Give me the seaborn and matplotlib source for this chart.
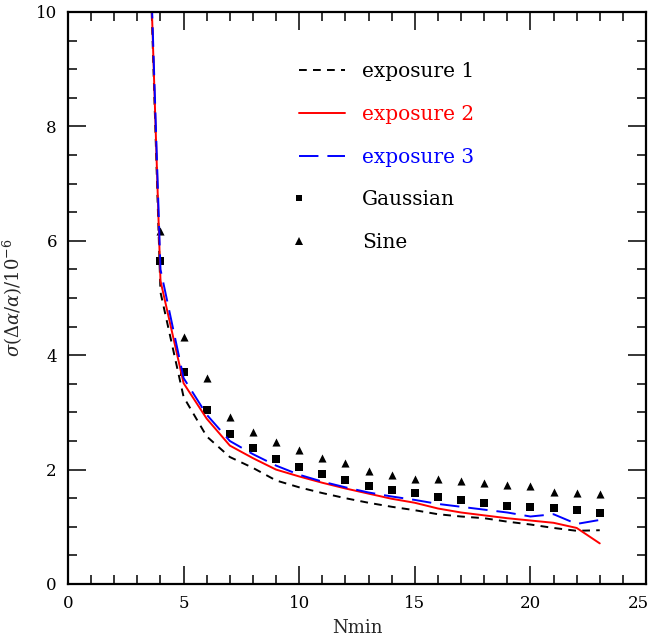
import numpy as np
import pandas as pd
import matplotlib
matplotlib.use("Agg")
import matplotlib.pyplot as plt
import matplotlib.transforms as mtransforms
import seaborn as sns
from matplotlib.lines import Line2D
from matplotlib.legend_handler import HandlerLine2D

# ---- data ----
nmin_lines = [3, 4, 5, 6, 7, 8, 9, 10, 11, 12, 13, 14, 15, 16, 17, 18, 19, 20, 21, 22, 23]
exposure1 = [18.0, 5.10, 3.27, 2.58, 2.22, 2.03, 1.81, 1.69, 1.59, 1.50, 1.42, 1.35, 1.29, 1.22, 1.18, 1.15, 1.09, 1.04, 0.98, 0.93, 0.94]
exposure2 = [18.0, 5.30, 3.51, 2.89, 2.42, 2.20, 2.00, 1.88, 1.77, 1.67, 1.58, 1.49, 1.42, 1.32, 1.25, 1.20, 1.15, 1.11, 1.07, 0.98, 0.71]
exposure3 = [18.0, 5.50, 3.60, 2.96, 2.50, 2.27, 2.07, 1.91, 1.79, 1.69, 1.60, 1.53, 1.47, 1.40, 1.35, 1.30, 1.25, 1.18, 1.22, 1.05, 1.12]

nmin_pts = [4, 5, 6, 7, 8, 9, 10, 11, 12, 13, 14, 15, 16, 17, 18, 19, 20, 21, 22, 23]
gaussian = [5.65, 3.71, 3.04, 2.62, 2.38, 2.19, 2.05, 1.92, 1.81, 1.72, 1.65, 1.59, 1.52, 1.46, 1.41, 1.37, 1.34, 1.32, 1.29, 1.25]
sine = [6.17, 4.32, 3.60, 2.92, 2.66, 2.49, 2.34, 2.21, 2.12, 1.98, 1.90, 1.84, 1.83, 1.80, 1.77, 1.73, 1.71, 1.60, 1.59, 1.57]

labels = ["exposure 1", "exposure 2", "exposure 3", "Gaussian", "Sine"]
colors = ["black", "red", "blue", "black", "black"]

lines_df = pd.DataFrame({"Nmin": nmin_lines, "e1": exposure1, "e2": exposure2, "e3": exposure3})
pts_df = pd.DataFrame({"Nmin": nmin_pts, "gauss": gaussian, "sine": sine})

# ---- style ----
sns.set_style("ticks")
plt.rcParams["font.family"] = ["DejaVu Serif"]
plt.rcParams["mathtext.fontset"] = "dejavuserif"

fig = plt.figure(figsize=(6.53, 6.40), dpi=100)
ax = fig.add_axes([68 / 653, 56 / 640, 578 / 653, 572 / 640])

LW = 1.4
ls1 = (0, (4.0, 3.2))
ls3 = (0, (10.0, 4.6))
sns.lineplot(data=lines_df, x="Nmin", y="e1", ax=ax, color=colors[0], lw=LW, linestyle=ls1)
sns.lineplot(data=lines_df, x="Nmin", y="e2", ax=ax, color=colors[1], lw=LW, linestyle="-")
sns.lineplot(data=lines_df, x="Nmin", y="e3", ax=ax, color=colors[2], lw=LW, linestyle=ls3)
sns.scatterplot(data=pts_df, x="Nmin", y="gauss", ax=ax, marker="s", color="black", s=28, linewidth=0)
sns.scatterplot(data=pts_df, x="Nmin", y="sine", ax=ax, marker="^", color="black", s=34, linewidth=0)

ax.set_xlim(0, 25)
ax.set_ylim(0, 10)
ax.set_xticks(np.arange(0, 26, 5))
ax.set_xticks(np.arange(0, 26, 1), minor=True)
ax.set_yticks(np.arange(0, 11, 2))
ax.set_yticks(np.arange(0, 10.01, 0.5), minor=True)
ax.tick_params(which="both", direction="in", top=True, right=True, width=1.1, colors="black")
ax.tick_params(which="major", length=13, labelsize=12, pad=8)
ax.tick_params(which="minor", length=6.5)
for sp in ax.spines.values():
    sp.set_linewidth(1.6)
    sp.set_color("black")

# nudge the last x tick label so it stays inside the figure
last_lbl = ax.get_xticklabels()[-1]
last_lbl.set_transform(last_lbl.get_transform() +
                       mtransforms.ScaledTranslation(-0.08, 0, fig.dpi_scale_trans))

ax.set_xlabel("Nmin", fontsize=13, labelpad=5)
ax.set_ylabel(r"$\sigma(\Delta\alpha/\alpha)/10^{-6}$", fontsize=13, labelpad=8)


class LeftMarkerHandler(HandlerLine2D):
    def create_artists(self, legend, orig_handle, xdescent, ydescent, width, height, fontsize, trans):
        arts = super().create_artists(legend, orig_handle, xdescent, ydescent, width, height, fontsize, trans)
        for a in arts:
            if isinstance(a, Line2D) and a.get_marker() not in (None, "None", ""):
                a.set_markevery([0])
        return arts


handles = [
    Line2D([], [], color=colors[0], lw=LW, linestyle=ls1),
    Line2D([], [], color=colors[1], lw=LW, linestyle="-"),
    Line2D([], [], color=colors[2], lw=LW, linestyle=ls3),
    Line2D([], [], color="black", marker="s", markersize=5.0, linestyle="None", markeredgewidth=0),
    Line2D([], [], color="black", marker="^", markersize=5.5, linestyle="None", markeredgewidth=0),
]
hmap = {h: LeftMarkerHandler(numpoints=1) for h in handles[3:]}
leg = ax.legend(handles, labels, loc="upper left", bbox_to_anchor=(0.382, 0.93),
                frameon=False, fontsize=14.5, handlelength=2.3, handletextpad=0.85,
                labelspacing=1.18, borderpad=0, numpoints=1, handler_map=hmap,
                labelcolor=colors)

fig.savefig("out.png", dpi=100)
